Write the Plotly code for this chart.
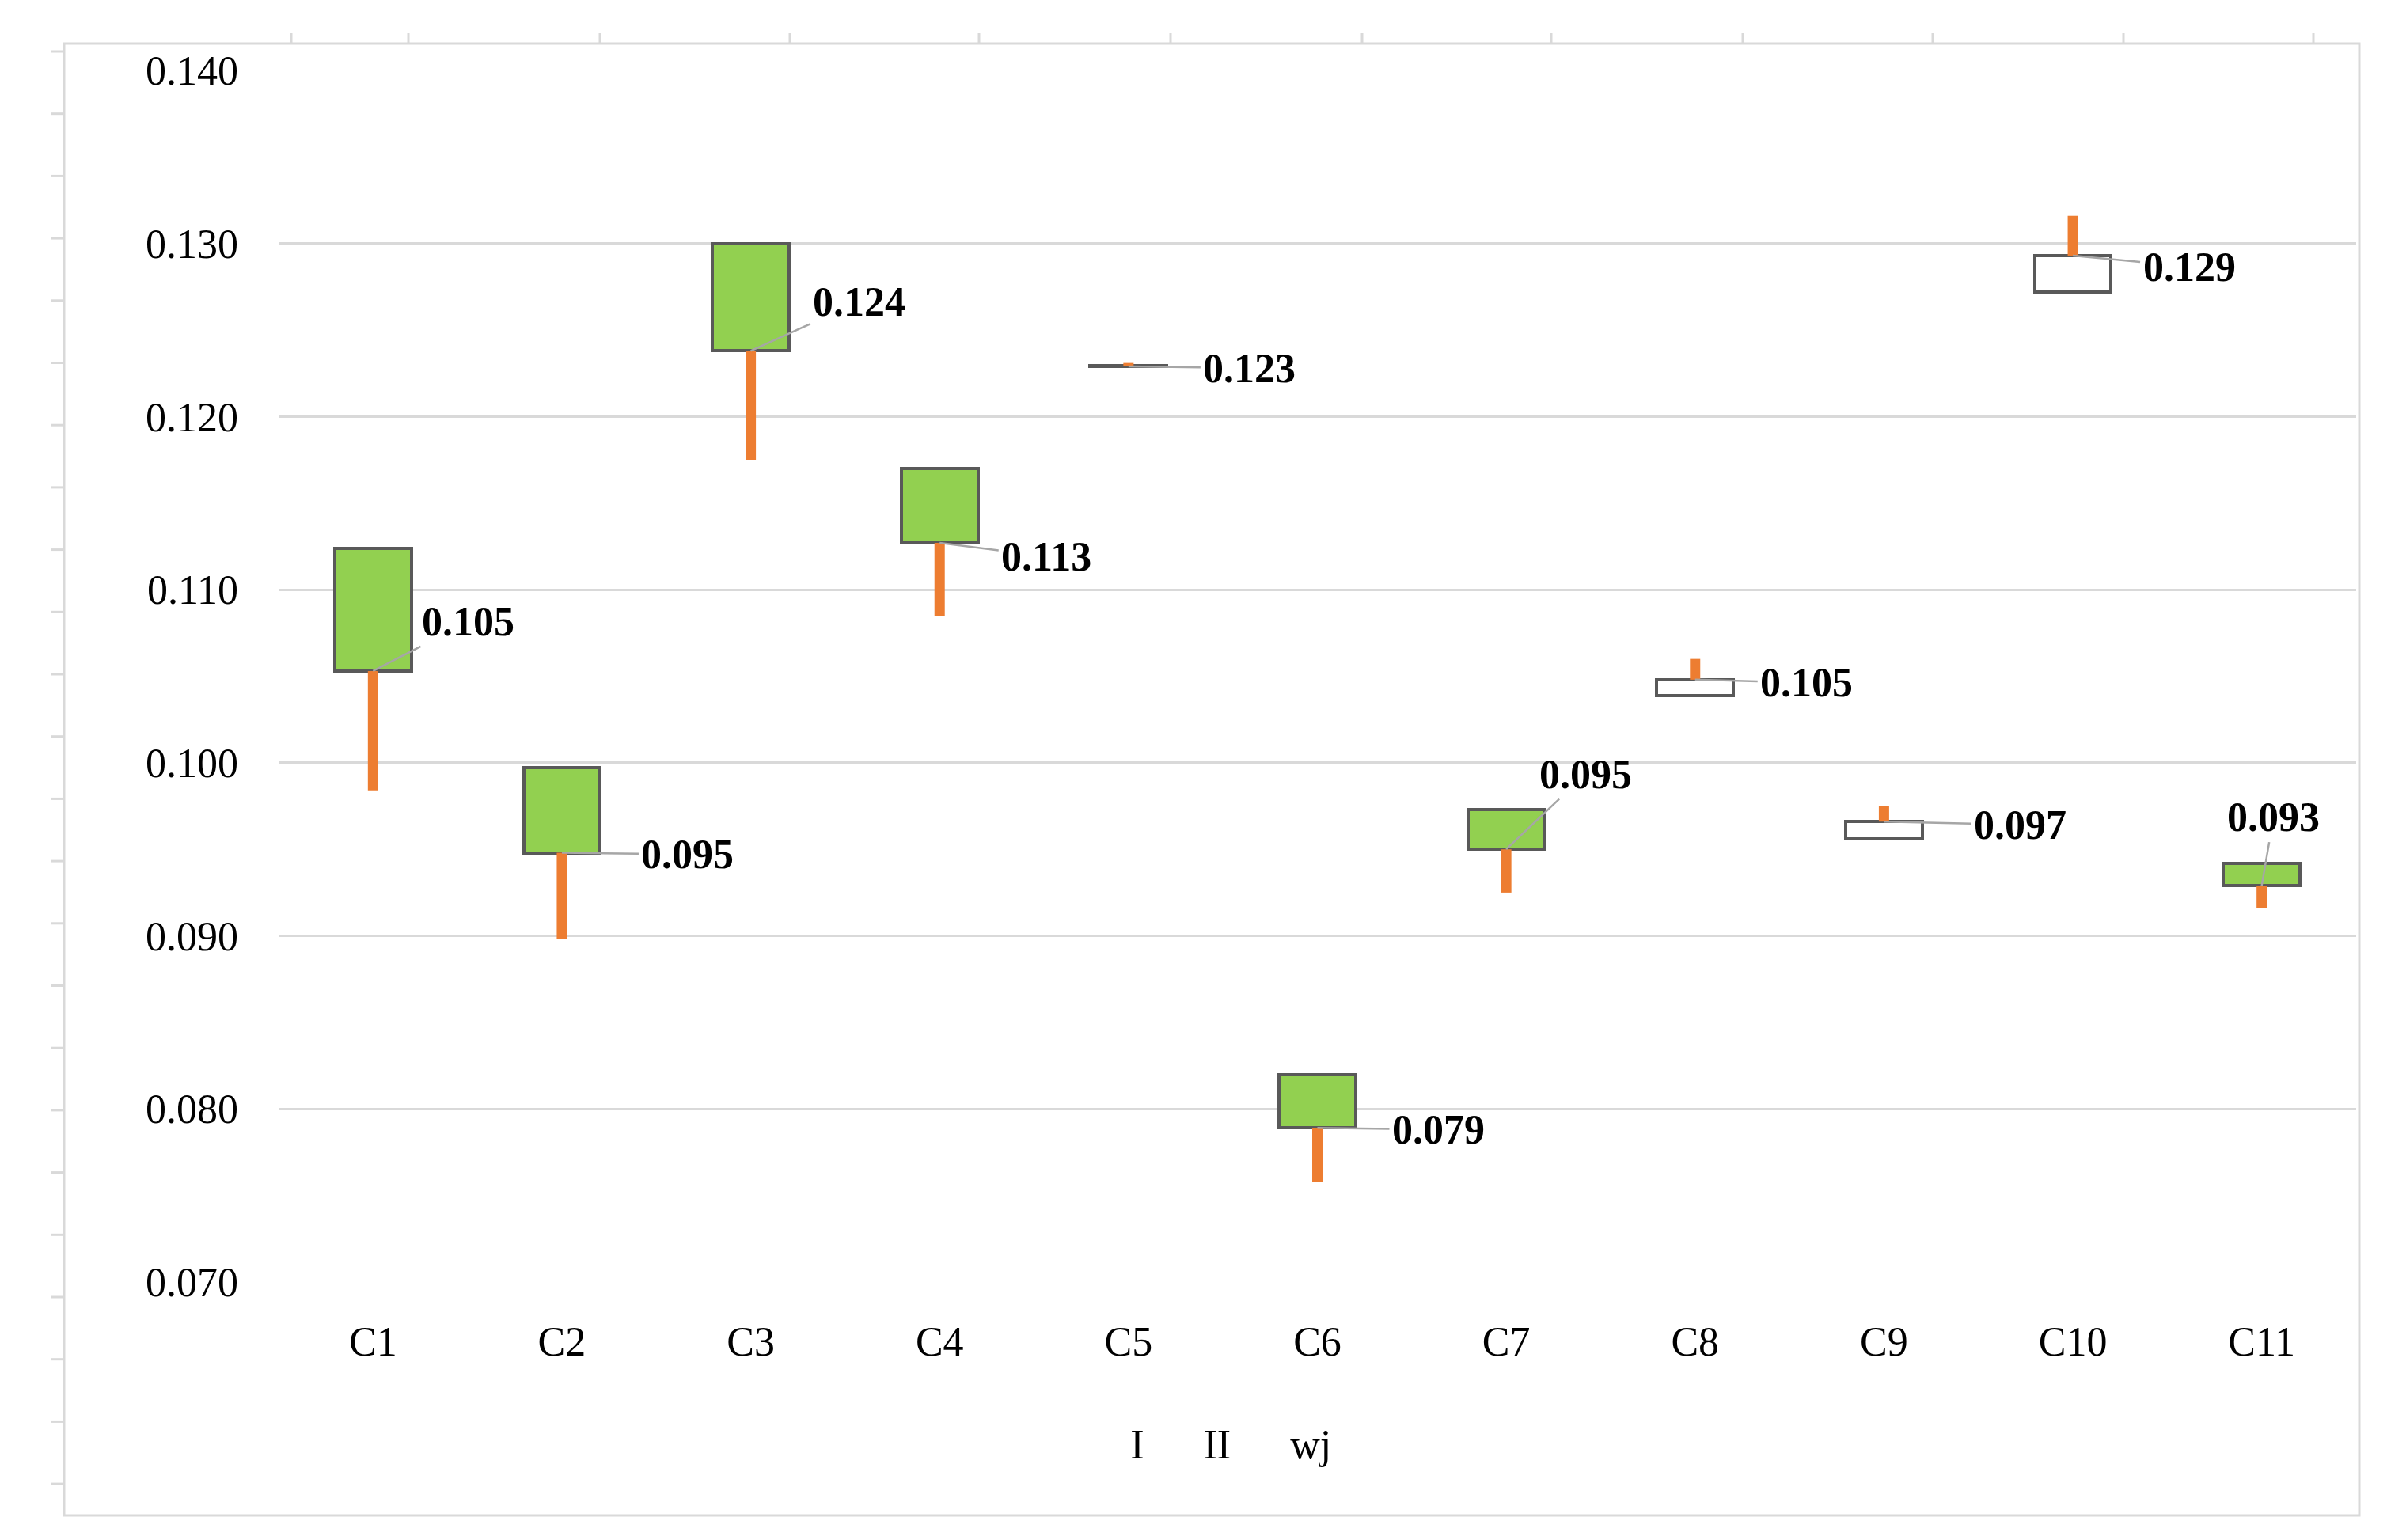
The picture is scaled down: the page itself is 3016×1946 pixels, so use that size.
import plotly.graph_objects as go

categories = ["C1", "C2", "C3", "C4", "C5", "C6", "C7", "C8", "C9", "C10", "C11"]
series_I = [0.1124, 0.0997, 0.1300, 0.1170, 0.12295, 0.0820, 0.0973, 0.1039, 0.0956, 0.1272, 0.0942]
series_II = [0.0984, 0.0898, 0.1175, 0.1085, 0.1231, 0.0758, 0.0925, 0.1060, 0.0975, 0.1316, 0.0916]
series_wj = [0.1053, 0.0948, 0.1238, 0.1127, 0.1229, 0.0789, 0.0950, 0.1048, 0.0966, 0.1293, 0.0929]
y_ticks = [0.070, 0.080, 0.090, 0.100, 0.110, 0.120, 0.130, 0.140]

# label offsets (pixels) of each data label relative to its wj point
label_dx = [120, 159, 137, 135, 153, 153, 100, 141, 172, 147, 15]
label_dy = [-62, 2, -62, 17, 2, 2, -95, 4, 4, 14, -87]

FONT = "Liberation Serif"
GREEN = "#92D050"
ORANGE = "#ED7D31"
OUTLINE = "#595959"
GRID = "#D9D9D9"

W, H = 3016, 1946
L, R, T, B = 344, 47, 81, 334
PW, PH = W - L - R, H - T - B

fig = go.Figure()

# up/down bars between series I and wj
base = [min(a, b) for a, b in zip(series_I, series_wj)]
height = [abs(a - b) for a, b in zip(series_I, series_wj)]
colors = [GREEN if a > b else "#FFFFFF" for a, b in zip(series_I, series_wj)]
fig.add_trace(go.Bar(
    x=categories, y=height, base=base, width=0.406,
    marker=dict(color=colors, line=dict(color=OUTLINE, width=4)),
    showlegend=False, hoverinfo="skip",
))

# high-low lines from wj to II
hx, hy = [], []
for c, w, ii in zip(categories, series_wj, series_II):
    hx += [c, c, None]
    hy += [w, ii, None]
fig.add_trace(go.Scatter(
    x=hx, y=hy, mode="lines", line=dict(color=ORANGE, width=13),
    showlegend=False, hoverinfo="skip",
))

# the three series (no visible marker, as in the original)
for name, vals in [("I", series_I), ("II", series_II), ("wj", series_wj)]:
    fig.add_trace(go.Scatter(
        x=categories, y=vals, mode="markers", name=name,
        marker=dict(size=8, color="rgba(0,0,0,0)"),
    ))

# data labels with leader lines
for c, w, dx, dy in zip(categories, series_wj, label_dx, label_dy):
    fig.add_annotation(
        x=c, y=w, text=f"<b>{w:.3f}</b>", showarrow=True, arrowhead=0,
        arrowwidth=2.5, arrowcolor="#A6A6A6", standoff=0, startstandoff=2,
        ax=dx, ay=dy, axref="pixel", ayref="pixel",
        font=dict(family=FONT, size=52, color="#000000"),
    )

# chart-area border
fig.add_shape(type="rect", xref="paper", yref="paper",
              x0=(73 - L) / PW, x1=(2973 - L) / PW,
              y0=(H - B - 1907) / PH, y1=(H - B - 47) / PH,
              line=dict(color=GRID, width=3), fillcolor="rgba(0,0,0,0)", layer="below")

# residual tick marks of the cropped outer frame
for k in range(24):
    yy = (H - B - (57 + 78.7 * k)) / PH
    fig.add_shape(type="line", xref="paper", yref="paper",
                  x0=(57 - L) / PW, x1=(73 - L) / PW, y0=yy, y1=yy,
                  line=dict(color=GRID, width=3))
top_ticks_px = [360, 508, 750, 990, 1229, 1471, 1713, 1952, 2194, 2434, 2675, 2915]
for px in top_ticks_px:
    xx = (px - L) / PW
    fig.add_shape(type="line", xref="paper", yref="paper",
                  x0=xx, x1=xx, y0=(H - B - 34) / PH, y1=(H - B - 47) / PH,
                  line=dict(color=GRID, width=3))

fig.update_layout(
    width=W, height=H,
    margin=dict(l=L, r=R, t=T, b=B),
    paper_bgcolor="white", plot_bgcolor="white",
    font=dict(family=FONT, size=52, color="#000000"),
    bargap=0,
    xaxis=dict(type="category", range=[-0.5, 10.5], showgrid=False, showline=False,
               ticks="", ticklabelstandoff=40, zeroline=False,
               tickfont=dict(family=FONT, size=52, color="#000000")),
    yaxis=dict(range=[0.070, 0.140], tickvals=y_ticks, tickformat=".3f",
               showgrid=True, gridcolor=GRID, gridwidth=3, zeroline=False,
               showline=False, ticks="", ticklabelstandoff=50,
               tickfont=dict(family=FONT, size=52, color="#000000")),
    legend=dict(orientation="h", x=0.3833, xanchor="left", y=-0.1326, yanchor="middle",
                font=dict(family=FONT, size=52, color="#000000"),
                bgcolor="rgba(0,0,0,0)", itemwidth=60),
    showlegend=True,
)

fig.write_html("out.html")
